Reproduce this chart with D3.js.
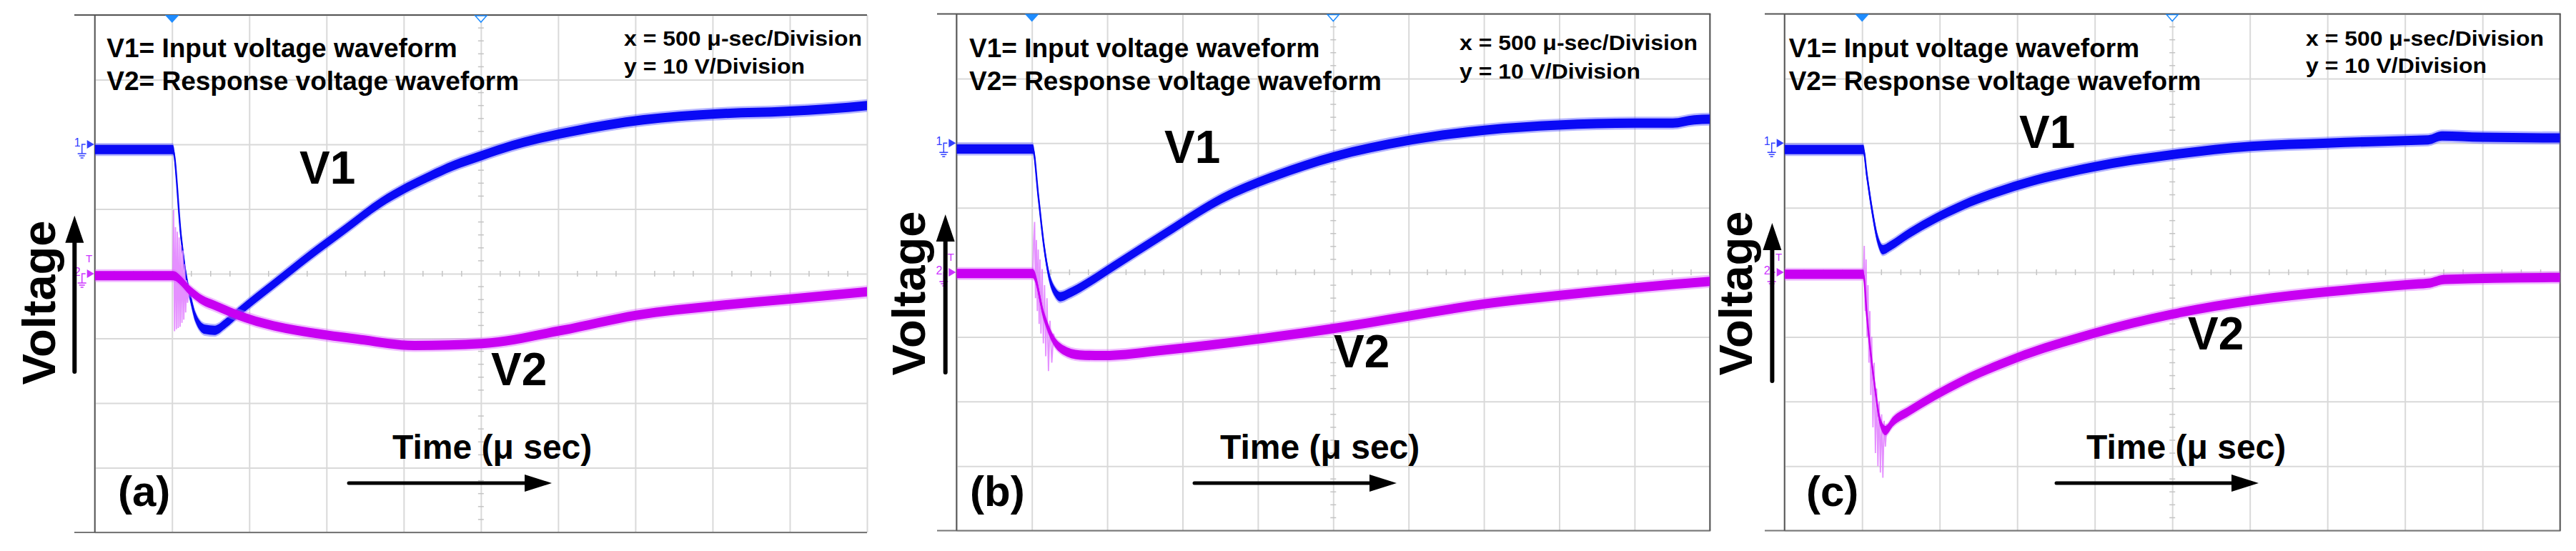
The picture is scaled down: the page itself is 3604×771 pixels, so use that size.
<!DOCTYPE html>
<html><head><meta charset="utf-8">
<script src="https://cdn.jsdelivr.net/npm/d3@7"></script>
<style>html,body{margin:0;padding:0;background:#fff;} svg{display:block;}</style>
</head><body>
<svg id="chart" width="3604" height="771"></svg>
<script>
// ================= DATA =================
const xTicksUs = d3.range(0, 5001, 500);          // 500 µs / division
const yTicksV  = d3.range(-40, 41, 10);           // 10 V / division
const legendLines = ["V1= Input voltage waveform", "V2= Response voltage waveform"];
const scaleLines  = ["x = 500 μ-sec/Division", "y = 10 V/Division"];
const traceNames  = ["V1", "V2"];
const panelTags   = ["(a)", "(b)", "(c)"];
const timeLabel   = "Time (μ sec)";
const yLabel      = "Voltage";
const ch1Ref = 20, ch2Ref = 0, triggerT = 500, centerT = 2500;

// Panel (a)
const tA1 = [0, 505, 558, 589, 620, 651, 713, 775, 851, 928, 1158, 1390, 1621, 1852, 2010, 2163, 2320, 2510, 2700, 2857, 3089, 3552, 4015, 4477, 4755, 5000];
const vA1 = [19.2, 19.2, 5.8, -0.1, -3.8, -6.7, -8.6, -8.75, -7.6, -6.0, -1.6, 2.8, 6.9, 11.0, 13.2, 15.0, 16.7, 18.3, 19.8, 20.8, 22.0, 23.8, 24.7, 25.1, 25.5, 26.0];
const tA2 = [0, 505, 620, 697, 775, 927, 1083, 1390, 1700, 2070, 2510, 3014, 3509, 4010, 4509, 5000];
const vA2 = [-0.3, -0.3, -2.7, -4.1, -4.9, -6.4, -7.6, -9.1, -10.1, -11.1, -10.8, -8.8, -6.4, -5.0, -3.9, -2.8];
const ringTA = [505, 510, 516, 522, 528, 534, 540, 546, 552, 558, 564, 570, 576, 582, 588, 594, 600, 610, 620];
const ringVA = [-0.3, 9.9, -8.9, 7.2, -8.6, 6.5, -8.4, 5.6, -8.2, 4.4, -7.6, 3.6, -7.1, 1.5, -6.0, -1.0, -4.5, -2.5, -2.7];

// Panel (b)
const tB1 = [0, 506, 543, 580, 616, 652, 688, 743, 852, 1033, 1396, 1759, 2122, 2503, 2992, 3502, 3993, 4501, 4753, 4895, 5000];
const vB1 = [19.1, 19.1, 11.7, 4.1, -0.8, -3.0, -3.8, -3.3, -1.9, 0.8, 6.2, 11.4, 15.0, 17.9, 20.4, 22.0, 22.8, 23.1, 23.1, 23.6, 23.7];
const tB2 = [0, 506, 580, 634, 706, 816, 961, 1396, 1977, 2503, 2994, 3502, 3993, 4501, 5000];
const vB2 = [-0.2, -0.2, -6.8, -10.1, -12.0, -12.8, -12.9, -12.0, -10.4, -8.7, -6.8, -4.9, -3.6, -2.4, -1.4];
const ringTB = [506, 512, 518, 524, 530, 536, 542, 548, 554, 560, 568, 576, 584, 592, 600, 610, 620, 632, 644, 656];
const ringVB = [-0.2, 5.0, 7.8, -4.0, 5.0, -6.0, 3.5, -8.0, 2.0, -9.5, 0.5, -11.0, -2.0, -13.0, -4.0, -15.3, -7.5, -14.0, -9.5, -11.0];

// Panel (c)
const tC1 = [0, 508, 531, 565, 599, 633, 683, 802, 1141, 1481, 1988, 2497, 3006, 3503, 4001, 4150, 4239, 4499, 5000];
const vC1 = [19.0, 19.0, 15.0, 9.5, 5.2, 3.5, 4.1, 6.0, 10.3, 13.3, 16.3, 18.2, 19.5, 20.0, 20.4, 20.5, 21.1, 20.9, 20.8];
const tC2 = [0, 508, 531, 582, 616, 650, 700, 802, 1141, 1481, 1988, 2497, 3006, 3515, 4024, 4150, 4259, 5000];
const vC2 = [-0.3, -0.3, -6.8, -17.7, -23.1, -24.5, -23.1, -21.5, -16.9, -13.4, -9.5, -6.5, -4.4, -3.0, -1.9, -1.7, -1.1, -0.8];
const ringTC = [508, 514, 520, 526, 532, 538, 544, 550, 556, 562, 570, 578, 586, 594, 602, 610, 618, 626, 634, 642, 650, 660];
const ringVC = [-0.3, 4.1, -6.0, 2.0, -10.0, -2.0, -14.0, -6.0, -19.0, -10.0, -24.0, -14.0, -28.0, -18.0, -30.0, -20.0, -31.0, -22.0, -31.8, -23.0, -27.0, -23.5];

const panelData = [
  {v1: [tA1, vA1], v2: [tA2, vA2], ring: [ringTA, ringVA]},
  {v1: [tB1, vB1], v2: [tB2, vB2], ring: [ringTB, ringVB]},
  {v1: [tC1, vC1], v2: [tC2, vC2], ring: [ringTC, ringVC]}
];

// ================= LAYOUT / STYLE =================
const layout = [
 {left:132.7, right:1213, top:21, bottom:745, boxLeft:104, rightDark:false,
  legendX:149.3, scaleX:873, scaleY:[64,103], v1Lab:[419,256.7], v2Lab:[687,539],
  timeX:549, arrowX:[488,772], parenX:165, voltX:77, voltY:423.5, yArrowX:104.3, yArrowY:[301.7,520]},
 {left:1338.3, right:2392.3, top:19.5, bottom:742.5, boxLeft:1311, rightDark:true,
  legendX:1356, scaleX:2042, scaleY:[70,110], v1Lab:[1629,227.7], v2Lab:[1866,514],
  timeX:1707, arrowX:[1671,1954], parenX:1357, voltX:1294, voltY:410.5, yArrowX:1322.7, yArrowY:[300,521]},
 {left:2496.7, right:3581.7, top:19.5, bottom:742.5, boxLeft:2469, rightDark:true,
  legendX:2502.7, scaleX:3226, scaleY:[64,102], v1Lab:[2825,206.5], v2Lab:[3061,489],
  timeX:2919, arrowX:[2877,3160], parenX:2527, voltX:2451, voltY:410.5, yArrowX:2479.4, yArrowY:[312,533]}
];
const FONT = "'Liberation Sans', Arial, Helvetica, sans-serif";
const C1 = "#0a0af5", C1f = "#5c5cff", C2 = "#c800f2", C2f = "#dd6dff";
const GRID = "#d9d9d9", BOX = "#555";

const svg = d3.select("#chart");
svg.append("rect").attr("width", 3604).attr("height", 771).attr("fill", "#fff");

layout.forEach((P, i) => {
  const D = panelData[i];
  const g = svg.append("g");
  const x = d3.scaleLinear().domain([0, 5000]).range([P.left, P.right]);
  const y = d3.scaleLinear().domain([-40, 40]).range([P.bottom, P.top]);
  const H = P.bottom - P.top, W = P.right - P.left;

  // grid through d3 axes
  const gx = g.append("g").attr("transform", `translate(0,${P.bottom})`)
    .call(d3.axisBottom(x).tickValues(xTicksUs).tickSize(-H).tickFormat(""));
  gx.select(".domain").remove();
  gx.selectAll("line").attr("stroke", GRID).attr("stroke-width", 2);
  const gy = g.append("g").attr("transform", `translate(${P.left},0)`)
    .call(d3.axisLeft(y).tickValues(yTicksV).tickSize(-W).tickFormat(""));
  gy.select(".domain").remove();
  gy.selectAll("line").attr("stroke", GRID).attr("stroke-width", 2);

  // centre cross-hair minor ticks
  const hMinor = d3.range(0, 5001, 125).filter(t => t % 500 !== 0);
  g.append("g").selectAll("line").data(hMinor).join("line")
    .attr("x1", d => x(d)).attr("x2", d => x(d)).attr("y1", y(0) - 4).attr("y2", y(0) + 4)
    .attr("stroke", "#c4c4c4").attr("stroke-width", 1.5);
  const vMinor = d3.range(-40, 41, 2).filter(v => v % 10 !== 0);
  g.append("g").selectAll("line").data(vMinor).join("line")
    .attr("x1", x(centerT) - 4).attr("x2", x(centerT) + 4).attr("y1", d => y(d)).attr("y2", d => y(d))
    .attr("stroke", "#c4c4c4").attr("stroke-width", 1.5);

  // frame
  g.append("line").attr("x1", P.boxLeft).attr("x2", P.right + (P.rightDark ? 1 : 0)).attr("y1", P.top).attr("y2", P.top).attr("stroke", BOX).attr("stroke-width", 2);
  g.append("line").attr("x1", P.boxLeft).attr("x2", P.right + (P.rightDark ? 1 : 0)).attr("y1", P.bottom).attr("y2", P.bottom).attr("stroke", "#777").attr("stroke-width", 2);
  g.append("line").attr("x1", P.left).attr("x2", P.left).attr("y1", P.top).attr("y2", P.bottom).attr("stroke", BOX).attr("stroke-width", 2);
  if (P.rightDark) g.append("line").attr("x1", P.right).attr("x2", P.right).attr("y1", P.top).attr("y2", P.bottom).attr("stroke", BOX).attr("stroke-width", 2);

  // trigger markers at top
  const tx = x(triggerT), cx = x(centerT);
  g.append("path").attr("d", `M${tx-10},${P.top}L${tx+10},${P.top}L${tx},${P.top+11}Z`).attr("fill", "#1e8cff");
  g.append("path").attr("d", `M${cx-8},${P.top+1}L${cx+8},${P.top+1}L${cx},${P.top+10}Z`).attr("fill", "#fff").attr("stroke", "#1e8cff").attr("stroke-width", 1.5);

  // channel markers
  function chMarker(yp, label, color, withT) {
    const xl = P.left;
    const m = g.append("g").attr("fill", "none").attr("stroke", color).attr("stroke-width", 1.5);
    m.append("path").attr("d", `M${xl-11},${yp-6}L${xl-1},${yp}L${xl-11},${yp+6}Z`).attr("fill", color).attr("stroke", "none");
    m.append("path").attr("d", `M${xl-13},${yp}H${xl-18}V${yp+9}`);
    m.append("path").attr("d", `M${xl-18},${yp+9}V${yp+13}M${xl-24},${yp+13}H${xl-12}M${xl-22},${yp+16}H${xl-14}M${xl-20},${yp+19}H${xl-16}`);
    g.append("text").text(label).attr("x", xl-20).attr("y", yp+3).attr("text-anchor", "end")
      .attr("font-family", FONT).attr("font-size", 16).attr("fill", color);
    if (withT) g.append("text").text("T").attr("x", xl-8).attr("y", yp-16).attr("text-anchor", "middle")
      .attr("font-family", FONT).attr("font-size", 15).attr("fill", color);
  }
  chMarker(y(ch1Ref), "1", "#3340ff", false);
  chMarker(y(ch2Ref), "2", "#cc33ff", true);

  // traces (vertical noise band drawn as areas)
  const clipId = "clip" + i;
  svg.append("clipPath").attr("id", clipId).append("rect")
    .attr("x", P.left).attr("y", P.top).attr("width", W).attr("height", H);
  const tg = g.append("g").attr("clip-path", `url(#${clipId})`);
  function trace(pair, core, fringe) {
    const pts = pair[0].map((t, k) => ({t, v: pair[1][k]}));
    const area = h => d3.area().x(d => x(d.t)).y0(d => y(d.v - h)).y1(d => y(d.v + h)).curve(d3.curveMonotoneX);
    tg.append("path").datum(pts).attr("d", area(1.0)).attr("fill", fringe).attr("opacity", 0.45);
    tg.append("path").datum(pts).attr("d", area(0.72)).attr("fill", core);
    tg.append("path").datum(pts).attr("d", d3.line().x(d => x(d.t)).y(d => y(d.v)).curve(d3.curveMonotoneX))
      .attr("fill", "none").attr("stroke", core).attr("stroke-width", 2.4);
  }
  trace(D.v1, C1, C1f);
  const rp = D.ring[0].map((t, k) => ({t, v: D.ring[1][k]}));
  tg.append("path").datum(rp).attr("d", d3.line().x(d => x(d.t)).y(d => y(d.v)))
    .attr("fill", "none").attr("stroke", "#e07cff").attr("stroke-width", 1.8).attr("opacity", 0.85);
  trace(D.v2, C2, C2f);

  // texts
  const T = (s, xx, yy, size, extra) => {
    const t = g.append("text").text(s).attr("x", xx).attr("y", yy)
      .attr("font-family", FONT).attr("font-weight", "bold").attr("font-size", size).attr("fill", "#000");
    if (extra) extra(t);
    return t;
  };
  T(legendLines[0], P.legendX, 80, 37);
  T(legendLines[1], P.legendX, 126, 37);
  T(scaleLines[0], P.scaleX, P.scaleY[0], 30, t => t.attr("textLength", 333).attr("lengthAdjust", "spacingAndGlyphs"));
  T(scaleLines[1], P.scaleX, P.scaleY[1], 30, t => t.attr("textLength", 253).attr("lengthAdjust", "spacingAndGlyphs"));
  T(traceNames[0], P.v1Lab[0], P.v1Lab[1], 64);
  T(traceNames[1], P.v2Lab[0], P.v2Lab[1], 64);
  T(timeLabel, P.timeX, 642, 48);
  T(panelTags[i], P.parenX, 708, 60);
  g.append("text").text(yLabel)
    .attr("transform", `translate(${P.voltX},${P.voltY}) rotate(-90)`)
    .attr("text-anchor", "middle").attr("font-family", FONT).attr("font-weight", "bold")
    .attr("font-size", 65).attr("fill", "#000");

  // horizontal time arrow
  g.append("line").attr("x1", P.arrowX[0]).attr("x2", P.arrowX[1] - 36).attr("y1", 676).attr("y2", 676)
    .attr("stroke", "#000").attr("stroke-width", 5).attr("stroke-linecap", "round");
  g.append("path").attr("d", `M${P.arrowX[1]-38},664L${P.arrowX[1]},676L${P.arrowX[1]-38},688Z`).attr("fill", "#000");
  // vertical voltage arrow
  const ax = P.yArrowX, ay0 = P.yArrowY[0], ay1 = P.yArrowY[1];
  g.append("line").attr("x1", ax).attr("x2", ax).attr("y1", ay1).attr("y2", ay0 + 36)
    .attr("stroke", "#000").attr("stroke-width", 6).attr("stroke-linecap", "round");
  g.append("path").attr("d", `M${ax-13},${ay0+38}L${ax},${ay0}L${ax+13},${ay0+38}Z`).attr("fill", "#000");
});
</script>
</body></html>
